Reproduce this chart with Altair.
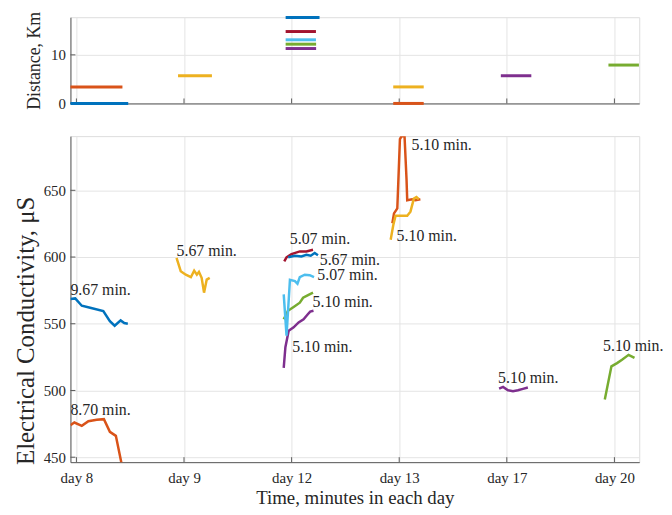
import altair as alt
import pandas as pd

FONT = "Liberation Serif"
INK = "#262626"
AXIS_GRAY = "#5a5a5a"
GRID = "#e4e4e4"

W = 574
H_TOP = 87
H_BOT = 329

# ---------------- data ----------------
DAYS = ["day 8", "day 9", "day 12", "day 13", "day 17", "day 20"]
DAY_START = [0, 18, 36, 54, 72, 90]      # minute where each day's slot starts
DAY_TICK = [1, 19, 37, 55, 73, 91]       # tick positions on the time axis
X_MAX = 95.15

COLOR_NAMES = ["blue", "orange", "yellow", "purple", "green", "lightblue", "darkred"]
COLOR_HEX = ["#0072BD", "#D95319", "#EDB120", "#7E2F8E", "#77AC30", "#4DBEEE", "#A2142F"]

# Top panel: distance covered in each run
SEG_DAY = ["day 8", "day 8", "day 9", "day 12", "day 12", "day 12", "day 12", "day 12",
           "day 13", "day 13", "day 17", "day 20"]
SEG_COLOR = ["blue", "orange", "yellow", "purple", "green", "lightblue", "darkred", "blue",
             "orange", "yellow", "purple", "green"]
SEG_MIN = [9.67, 8.70, 5.67, 5.10, 5.10, 5.07, 5.07, 5.67, 5.10, 5.10, 5.10, 5.10]
SEG_KM = [0.0, 3.4, 5.7, 11.3, 12.2, 13.1, 14.8, 17.7, 0.0, 3.4, 5.7, 7.9]
KM_TICKS = [0, 10]
KM_MAX = 17.75

# Bottom panel: electrical conductivity, minutes from start of the day's slot
D8_BLUE_MIN = [0, 0.8, 1.9, 3.3, 5.5, 6.6, 7.4, 8.4, 9.0, 9.6]
D8_BLUE_EC = [568.5, 569, 563.5, 562, 559.5, 552, 548.5, 552.5, 550.5, 550]
D8_ORANGE_MIN = [0, 0.66, 1.9, 3.0, 4.4, 5.6, 6.6, 7.6, 8.7]
D8_ORANGE_EC = [474, 476, 473.5, 477, 478, 478.5, 469, 466, 442]
D9_YELLOW_MIN = [-0.25, 0.45, 1.3, 2.15, 2.7, 3.15, 3.5, 3.95, 4.35, 4.8, 5.3]
D9_YELLOW_EC = [599.3, 589.4, 586.8, 584.9, 589.8, 586.8, 588.9, 584.4, 573.3, 583.1, 584.4]
D12_PURPLE_MIN = [-0.32, -0.04, 0.51, 1.34, 2.17, 3.0, 3.71, 4.11, 4.66]
D12_PURPLE_EC = [517, 532.4, 544.8, 547.3, 551, 553.4, 557.1, 559.1, 559.7]
D12_GREEN_MIN = [-0.32, 0.39, 1.34, 2.37, 2.92, 3.75, 4.58]
D12_GREEN_EC = [553.4, 559.7, 562.6, 565.8, 569.5, 571.5, 573.3]
D12_LIGHTBLUE_MIN = [-0.32, 0.15, 0.72, 1.55, 1.98, 2.37, 3.2, 4.03, 4.75]
D12_LIGHTBLUE_EC = [572, 541, 583, 582, 580, 585, 586.8, 586.4, 585]
D12_DARKRED_MIN = [-0.23, 0.15, 0.98, 2.37, 3.47, 4.58]
D12_DARKRED_EC = [596.8, 599.8, 602.2, 604.2, 604.2, 605.4]
D12_BLUE_MIN = [0.43, 1.55, 2.64, 3.47, 4.2, 4.86, 5.41]
D12_BLUE_EC = [599.8, 601, 600.5, 601.7, 601, 603, 601.3]
D13_ORANGE_MIN = [-0.15, 0.13, 0.68, 1.12, 1.39, 1.89, 2.22, 2.34, 3.17, 3.71, 4.54]
D13_ORANGE_EC = [625.3, 632.7, 636.4, 688.4, 690.5, 690.5, 658.7, 642.6, 643.3, 642.6, 643.3]
D13_YELLOW_MIN = [-0.43, 0.01, 0.39, 1.22, 2.34, 2.88, 3.45, 3.88, 4.28]
D13_YELLOW_EC = [612.9, 624, 631, 631, 631, 634, 643.8, 645, 643.3]
D17_PURPLE_MIN = [-0.29, 0.37, 1.2, 2.03, 2.86, 3.69, 4.52]
D17_PURPLE_EC = [501.4, 502.7, 500.2, 499.5, 500.2, 501.2, 502.2]
D20_GREEN_MIN = [-0.61, 0.5, 1.44, 2.27, 3.37, 4.36]
D20_GREEN_EC = [493.2, 518.1, 520.5, 523, 526.7, 524.4]
EC_TICKS = [450, 500, 550, 600, 650]
EC_DOMAIN = [446.3, 690.6]

# Annotations: run duration labels
ANN_DAY = ["day 8", "day 8", "day 9", "day 12", "day 12", "day 12", "day 12", "day 12",
           "day 13", "day 13", "day 17", "day 20"]
ANN_MIN = [0, 0, -0.25, 0.7, 5.7, 5.3, 4.5, 1.1, 3.05, 0.56, -0.46, -0.9]
ANN_EC = [575.5, 485.4, 604.2, 613.4, 597.8, 586.3, 566.6, 532.8, 684, 616, 509.4, 533.1]
ANN_TEXT = ["9.67 min.", "8.70 min.", "5.67 min.", "5.07 min.", "5.67 min.", "5.07 min.",
            "5.10 min.", "5.10 min.", "5.10 min.", "5.10 min.", "5.10 min.", "5.10 min."]

# ---------------- tables ----------------
def day_x(day):
    return DAY_START[DAYS.index(day)]

seg_df = pd.DataFrame({
    "x": [day_x(d) for d in SEG_DAY],
    "x2": [day_x(d) + m for d, m in zip(SEG_DAY, SEG_MIN)],
    "km": SEG_KM,
    "col": SEG_COLOR,
})

series = [
    ("day 8", "blue", D8_BLUE_MIN, D8_BLUE_EC),
    ("day 8", "orange", D8_ORANGE_MIN, D8_ORANGE_EC),
    ("day 9", "yellow", D9_YELLOW_MIN, D9_YELLOW_EC),
    ("day 12", "purple", D12_PURPLE_MIN, D12_PURPLE_EC),
    ("day 12", "green", D12_GREEN_MIN, D12_GREEN_EC),
    ("day 12", "lightblue", D12_LIGHTBLUE_MIN, D12_LIGHTBLUE_EC),
    ("day 12", "darkred", D12_DARKRED_MIN, D12_DARKRED_EC),
    ("day 12", "blue", D12_BLUE_MIN, D12_BLUE_EC),
    ("day 13", "orange", D13_ORANGE_MIN, D13_ORANGE_EC),
    ("day 13", "yellow", D13_YELLOW_MIN, D13_YELLOW_EC),
    ("day 17", "purple", D17_PURPLE_MIN, D17_PURPLE_EC),
    ("day 20", "green", D20_GREEN_MIN, D20_GREEN_EC),
]
rows = []
for k, (day, col, mins, ecs) in enumerate(series):
    for i, (m, e) in enumerate(zip(mins, ecs)):
        rows.append({"sid": f"{k:02d}", "col": col, "x": day_x(day) + m, "ec": e, "idx": i})
ec_df = pd.DataFrame(rows)

ann_df = pd.DataFrame({
    "x": [day_x(d) + m for d, m in zip(ANN_DAY, ANN_MIN)],
    "ec": ANN_EC,
    "label": ANN_TEXT,
})

# ---------------- scales / axes ----------------
x_scale = alt.Scale(domain=[0, X_MAX], nice=False, zero=False)
color_scale = alt.Scale(domain=COLOR_NAMES, range=COLOR_HEX)
km_scale = alt.Scale(domain=[0, KM_MAX], nice=False, zero=False)
ec_scale = alt.Scale(domain=EC_DOMAIN, nice=False, zero=False)

label_expr = f"{DAYS}[indexof({DAY_TICK}, datum.value)]"

common_axis = dict(grid=True, gridColor=GRID, gridWidth=1, domainColor=AXIS_GRAY,
                   domainWidth=1, ticks=False, labelFont=FONT, labelColor=INK,
                   labelFlush=False, labelOverlap=False, titleFont=FONT,
                   titleColor=INK, titleFontWeight="normal")

top_x_axis = alt.Axis(values=DAY_TICK, labels=False, title=None, **common_axis)
top_y_axis = alt.Axis(values=KM_TICKS, labelFontSize=15, labelPadding=5,
                      title="Distance, Km", titleFontSize=18, titleX=-36,
                      titleY=H_TOP / 2, titleAngle=270, titleAlign="center",
                      titleBaseline="middle", **common_axis)
bot_x_axis = alt.Axis(values=DAY_TICK, labelExpr=label_expr, labelFontSize=15,
                      labelPadding=9, title="Time, minutes in each day",
                      titleFontSize=19, titlePadding=3, **common_axis)
bot_y_axis = alt.Axis(values=EC_TICKS, labelFontSize=15, labelPadding=5,
                      title="Electrical Conductivity, μS", titleFontSize=25,
                      titleX=-45.3, titleY=196, titleAngle=270,
                      titleAlign="center", titleBaseline="middle", **common_axis)

# ---------------- top panel ----------------
top_xticks = alt.Chart(pd.DataFrame({"x": DAY_TICK})).mark_rule(
    color=AXIS_GRAY, strokeWidth=1).encode(
    x=alt.X("x:Q", scale=x_scale, axis=top_x_axis),
    y=alt.value(H_TOP), y2=alt.value(H_TOP - 5))
top_yticks = alt.Chart(pd.DataFrame({"km": KM_TICKS})).mark_rule(
    color=AXIS_GRAY, strokeWidth=1).encode(
    y=alt.Y("km:Q", scale=km_scale, axis=top_y_axis),
    x=alt.value(0), x2=alt.value(5))
top_segs = alt.Chart(seg_df).mark_rule(strokeWidth=3).encode(
    x=alt.X("x:Q", scale=x_scale, axis=top_x_axis),
    x2="x2:Q",
    y=alt.Y("km:Q", scale=km_scale, axis=top_y_axis),
    color=alt.Color("col:N", scale=color_scale, legend=None))
top = alt.layer(top_xticks, top_yticks, top_segs).properties(width=W, height=H_TOP)

# ---------------- bottom panel ----------------
bot_xticks = alt.Chart(pd.DataFrame({"x": DAY_TICK})).mark_rule(
    color=AXIS_GRAY, strokeWidth=1).encode(
    x=alt.X("x:Q", scale=x_scale, axis=bot_x_axis),
    y=alt.value(H_BOT), y2=alt.value(H_BOT - 5))
bot_yticks = alt.Chart(pd.DataFrame({"ec": EC_TICKS})).mark_rule(
    color=AXIS_GRAY, strokeWidth=1).encode(
    y=alt.Y("ec:Q", scale=ec_scale, axis=bot_y_axis),
    x=alt.value(0), x2=alt.value(5))
bot_lines = alt.Chart(ec_df).mark_line(strokeWidth=2.5, clip=True).encode(
    x=alt.X("x:Q", scale=x_scale, axis=bot_x_axis),
    y=alt.Y("ec:Q", scale=ec_scale, axis=bot_y_axis),
    color=alt.Color("col:N", scale=color_scale, legend=None),
    detail="sid:N",
    order="idx:Q")
bot_text = alt.Chart(ann_df).mark_text(
    align="left", baseline="middle", font=FONT, fontSize=16, color=INK).encode(
    x=alt.X("x:Q", scale=x_scale, axis=bot_x_axis),
    y=alt.Y("ec:Q", scale=ec_scale, axis=bot_y_axis),
    text="label:N")
bottom = alt.layer(bot_xticks, bot_yticks, bot_lines, bot_text).properties(width=W, height=H_BOT)

chart = alt.vconcat(top, bottom, spacing=23).properties(
    padding={"left": 5, "top": 0, "right": 0, "bottom": 0}
).configure_view(strokeWidth=0).configure(font=FONT)

chart.save("out.html", embed_options={"renderer": "svg", "actions": False})
